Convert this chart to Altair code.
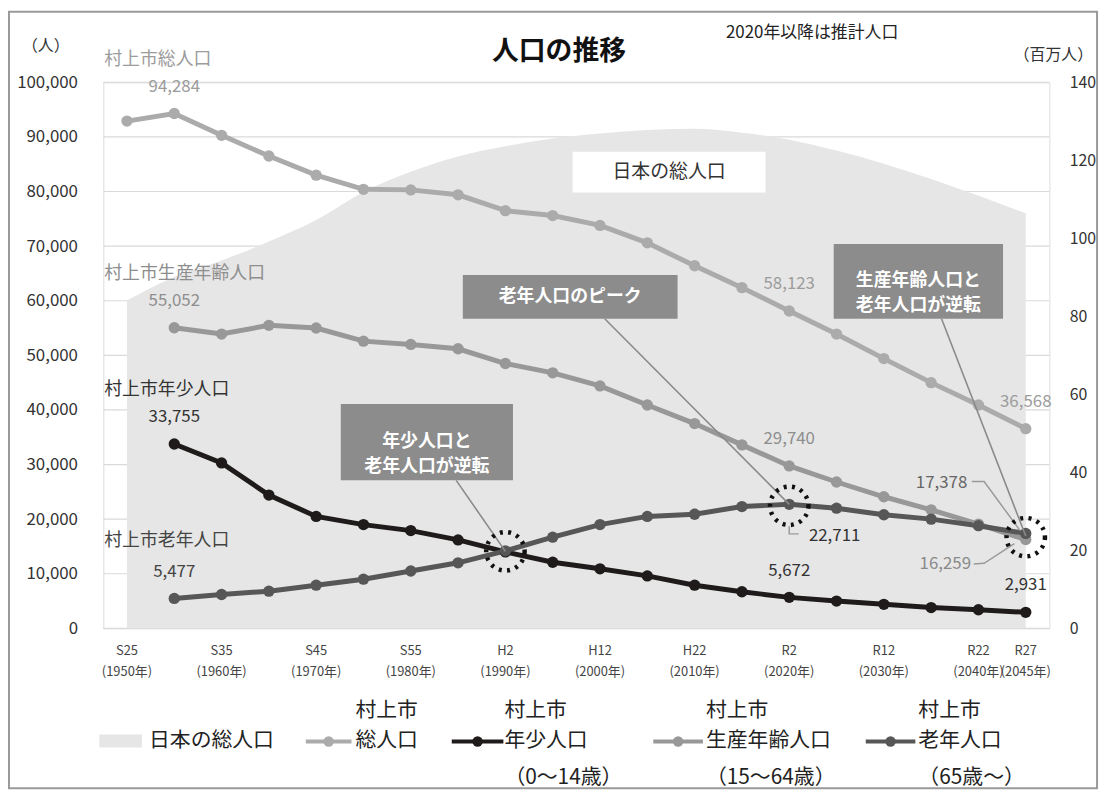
import altair as alt
import pandas as pd

FONT = "Noto Sans CJK JP"

# ---------------- data ----------------
years = [1950, 1955, 1960, 1965, 1970, 1975, 1980, 1985, 1990, 1995,
         2000, 2005, 2010, 2015, 2020, 2025, 2030, 2035, 2040, 2045]

total = [92900, 94284, 90300, 86500, 83000, 80400, 80300, 79400, 76500, 75600,
         73800, 70600, 66400, 62400, 58123, 53900, 49400, 45000, 40900, 36568]
youth = [None, 33755, 30300, 24400, 20500, 19000, 17900, 16200, 14000, 12100,
         10900, 9600, 7900, 6700, 5672, 5000, 4400, 3800, 3400, 2931]
working = [None, 55052, 53900, 55500, 55000, 52600, 52000, 51200, 48500, 46800,
           44400, 40900, 37500, 33600, 29740, 26800, 24100, 21700, 19100, 16259]
elderly = [None, 5477, 6200, 6800, 7900, 9000, 10500, 12000, 14200, 16700,
           19000, 20500, 20900, 22300, 22711, 22000, 20800, 20000, 18800, 17378]
japan_total = [84.1, 90.1, 94.3, 99.2, 104.7, 111.9, 117.1, 121.0, 123.6, 125.6,
               126.9, 127.8, 128.1, 127.1, 125.3, 122.5, 119.1, 115.2, 110.9, 106.4]

series_names = ["総人口", "年少人口", "生産年齢人口", "老年人口"]
series_colors = ["#ababab", "#1f1b1b", "#989898", "#575757"]
series_ages = ["", "（0〜14歳）", "（15〜64歳）", "（65歳〜）"]
series_label_colors = ["#9c9c9c", "#333333", "#8e8e8e", "#444444"]
series_titles = ["村上市総人口", "村上市年少人口", "村上市生産年齢人口", "村上市老年人口"]
series_title_year = [1947.6, 1947.6, 1947.6, 1947.6]
series_title_val = [104000, 43600, 64900, 16000]
city_name = "村上市"

x_tick_years = [1950, 1960, 1970, 1980, 1990, 2000, 2010, 2020, 2030, 2040, 2045]
x_tick_era = ["S25", "S35", "S45", "S55", "H2", "H12", "H22", "R2", "R12", "R22", "R27"]
left_ticks = [0, 10000, 20000, 30000, 40000, 50000, 60000, 70000, 80000, 90000, 100000]
right_ticks = [0, 20, 40, 60, 80, 100, 120, 140]

# value labels drawn above points (series, year)
value_label_points = [("総人口", 1955), ("総人口", 2020), ("総人口", 2045),
                      ("生産年齢人口", 1955), ("生産年齢人口", 2020),
                      ("年少人口", 1955), ("年少人口", 2020), ("年少人口", 2045),
                      ("老年人口", 1955)]

# labels with leader lines
leader_label_year = [2024.8, 2036.1, 2036.5]
leader_label_val = [16950, 26700, 11800]
leader_label_text = ["22,711", "17,378", "16,259"]
leader_label_color = ["#333333", "#666666", "#8a8a8a"]
leader_id = ["a", "a", "a", "b", "b", "b", "c", "c", "c"]
leader_ord = [0, 1, 2, 0, 1, 2, 0, 1, 2]
leader_year = [2020, 2020, 2021.0, 2039.3, 2040.6, 2044.4, 2039.5, 2040.6, 2043.8]
leader_val = [18700, 17300, 17300, 26900, 26900, 17900, 11800, 11900, 15500]

# highlight circles
circle_year = [1990, 2020, 2045]
circle_val = [14100, 22450, 16700]

# callout boxes
box_text = [["年少人口と", "老年人口が逆転"], ["老年人口のピーク"], ["生産年齢人口と", "老年人口が逆転"]]
box_x1 = [1972.6, 1985.5, 2024.7]
box_x2 = [1990.8, 2008.2, 2042.6]
box_y1 = [27100, 56700, 56700]
box_y2 = [41100, 64700, 70400]
box_ptr_from_x = [1984.8, 2000.5, 2036.1]
box_ptr_to_x = [1990, 2020, 2045]
box_ptr_to_y = [14100, 22711, 16900]

japan_label = "日本の総人口"
japan_box = (1997.1, 2017.5, 79800, 87300)

title_text = "人口の推移"
note_text = "2020年以降は推計人口"
left_unit = "（人）"
right_unit = "（百万人）"

# ---------------- layout (pixels, relative to plot origin) ----------------
PLOT_W, PLOT_H = 953, 550
X_DOMAIN = [1947.5, 2047.5]
leg_line_x1 = [204, 351, 554, 768]
leg_line_x2 = [250, 403, 604, 818]
leg_text_x = [254, 404, 607, 821]
leg_row_y, leg_top_y, leg_bot_y = 664, 633, 701
xlab_y1, xlab_y2 = 573, 594


def px_to_year(p):
    return X_DOMAIN[0] + p * (X_DOMAIN[1] - X_DOMAIN[0]) / PLOT_W


# ---------------- tables ----------------
rows = []
for name, vals in zip(series_names, [total, youth, working, elderly]):
    for yr, v in zip(years, vals):
        if v is not None:
            rows.append({"year": yr, "v": v, "series": name})
df = pd.DataFrame(rows)

lookup = {(r["series"], r["year"]): r["v"] for r in rows}
vl_rows = []
for s, yr in value_label_points:
    v = lookup[(s, yr)]
    vl_rows.append({"year": yr, "v": v, "t": f"{v:,}",
                    "c": series_label_colors[series_names.index(s)]})
vl_df = pd.DataFrame(vl_rows)

st_df = pd.DataFrame({"year": series_title_year, "v": series_title_val,
                      "t": series_titles, "c": series_label_colors})
ll_df = pd.DataFrame({"year": leader_label_year, "v": leader_label_val,
                      "t": leader_label_text, "c": leader_label_color})
ld_df = pd.DataFrame({"id": leader_id, "o": leader_ord, "year": leader_year, "v": leader_val})
circ_df = pd.DataFrame({"year": circle_year, "v": circle_val})
box_df = pd.DataFrame({"x1": box_x1, "x2": box_x2, "y1": box_y1, "y2": box_y2,
                       "xc": [(a + b) / 2 for a, b in zip(box_x1, box_x2)],
                       "yc": [(a + b) / 2 for a, b in zip(box_y1, box_y2)],
                       "t": box_text, "px": box_ptr_from_x, "tx": box_ptr_to_x,
                       "ty": box_ptr_to_y})
jp_df = pd.DataFrame({"year": years, "jp": japan_total})
jb_df = pd.DataFrame({"x1": [japan_box[0]], "x2": [japan_box[1]], "y1": [japan_box[2]],
                      "y2": [japan_box[3]], "xc": [(japan_box[0] + japan_box[1]) / 2],
                      "yc": [(japan_box[2] + japan_box[3]) / 2], "t": [japan_label]})
leg_df = pd.DataFrame({"series": series_names, "age": series_ages,
                       "top": [city_name] * len(series_names),
                       "x1": [px_to_year(p) for p in leg_line_x1],
                       "x2": [px_to_year(p) for p in leg_line_x2],
                       "xd": [px_to_year((a + b) / 2) for a, b in zip(leg_line_x1, leg_line_x2)],
                       "tx": [px_to_year(p) for p in leg_text_x]})
grid_df = pd.DataFrame({"v": left_ticks})
xt_df = pd.DataFrame({"year": x_tick_years, "era": x_tick_era,
                      "yl": [f"({y}年)" for y in x_tick_years]})

# ---------------- scales ----------------
XS = alt.Scale(domain=X_DOMAIN, nice=False, zero=False)
YS = alt.Scale(domain=[0, 100000], nice=False)
CS = alt.Scale(domain=series_names, range=series_colors)

X_NOAXIS = alt.X("year:Q", scale=XS, axis=None)
Y_NOAXIS = alt.Y("v:Q", scale=YS, axis=None)
COLOR = alt.Color("series:N", scale=CS, legend=None)


def xfield(f):
    return alt.X(f"{f}:Q", scale=XS, axis=None)


# ---------------- layers ----------------
grid = alt.Chart(grid_df).mark_rule(color="#dadada", strokeWidth=1.2).encode(
    y=Y_NOAXIS, x=alt.value(0), x2=alt.value(PLOT_W),
)

area = alt.Chart(jp_df).mark_area(interpolate="monotone", color="#e6e6e6").encode(
    x=X_NOAXIS,
    y=alt.Y("jp:Q", scale=alt.Scale(domain=[0, 140], nice=False), title=None,
            axis=alt.Axis(orient="right", values=right_ticks, labelFontSize=16,
                          labelColor="#333333", labelFont=FONT, labelPadding=20,
                          ticks=False, domain=False, grid=False)),
)

lines = alt.Chart(df).mark_line(strokeWidth=5).encode(
    x=X_NOAXIS,
    y=alt.Y("v:Q", scale=YS, title=None,
            axis=alt.Axis(orient="left", values=left_ticks,
                          labelExpr="format(datum.value, ',')", labelFontSize=17,
                          labelColor="#333333", labelFont=FONT, labelPadding=26,
                          ticks=False, domain=False, grid=False)),
    color=COLOR,
)

points = alt.Chart(df).mark_circle(size=130, opacity=1).encode(
    x=X_NOAXIS, y=Y_NOAXIS, color=COLOR,
)

# x-axis tick labels (era name + western year), placed by the x scale
xt_era = alt.Chart(xt_df).mark_text(font=FONT, fontSize=13, color="#444444").encode(
    x=X_NOAXIS, y=alt.value(xlab_y1), text="era:N",
)
xt_year = alt.Chart(xt_df).mark_text(font=FONT, fontSize=13, color="#444444").encode(
    x=X_NOAXIS, y=alt.value(xlab_y2), text="yl:N",
)

value_labels = alt.Chart(vl_df).mark_text(font=FONT, fontSize=17, dy=-27).encode(
    x=X_NOAXIS, y=Y_NOAXIS, text="t:N", color=alt.Color("c:N", scale=None),
)

series_labels = alt.Chart(st_df).mark_text(font=FONT, fontSize=18, align="left").encode(
    x=X_NOAXIS, y=Y_NOAXIS, text="t:N", color=alt.Color("c:N", scale=None),
)

leader_lines = alt.Chart(ld_df).mark_line(strokeWidth=1.5, color="#9a9a9a").encode(
    x=X_NOAXIS, y=Y_NOAXIS, detail="id:N", order="o:Q",
)

leader_labels = alt.Chart(ll_df).mark_text(font=FONT, fontSize=17).encode(
    x=X_NOAXIS, y=Y_NOAXIS, text="t:N", color=alt.Color("c:N", scale=None),
)

circles = alt.Chart(circ_df).mark_point(shape="circle", size=1500, filled=False,
                                        stroke="#111111", strokeWidth=4.5,
                                        strokeDash=[3, 5.5], opacity=1).encode(
    x=X_NOAXIS, y=Y_NOAXIS,
)

box_ptrs = alt.Chart(box_df).mark_rule(strokeWidth=1.6, color="#8a8a8a").encode(
    x=xfield("px"), x2="tx:Q",
    y=alt.Y("y1:Q", scale=YS, axis=None), y2="ty:Q",
)

boxes = alt.Chart(box_df).mark_rect(color="#8c8c8c").encode(
    x=xfield("x1"), x2="x2:Q",
    y=alt.Y("y1:Q", scale=YS, axis=None), y2="y2:Q",
)

box_texts = alt.Chart(box_df).mark_text(font=FONT, fontSize=18, fontWeight="bold",
                                        color="white", lineHeight=25).encode(
    x=xfield("xc"), y=alt.Y("yc:Q", scale=YS, axis=None), text="t",
)

jbox = alt.Chart(jb_df).mark_rect(color="white").encode(
    x=xfield("x1"), x2="x2:Q",
    y=alt.Y("y1:Q", scale=YS, axis=None), y2="y2:Q",
)
jtext = alt.Chart(jb_df).mark_text(font=FONT, fontSize=19, color="#333333").encode(
    x=xfield("xc"), y=alt.Y("yc:Q", scale=YS, axis=None), text="t:N",
)

# ---- legend (custom, drawn from the series list) ----
leg_lines = alt.Chart(leg_df).mark_rule(strokeWidth=4).encode(
    x=xfield("x1"), x2="x2:Q", y=alt.value(leg_row_y), color=COLOR,
)
leg_dots = alt.Chart(leg_df).mark_circle(size=110, opacity=1).encode(
    x=xfield("xd"), y=alt.value(leg_row_y), color=COLOR,
)
leg_names = alt.Chart(leg_df).mark_text(font=FONT, fontSize=21, align="left",
                                        color="#222222").encode(
    x=xfield("tx"), y=alt.value(leg_row_y), text="series:N",
)
leg_tops = alt.Chart(leg_df).mark_text(font=FONT, fontSize=21, align="left",
                                       color="#222222").encode(
    x=xfield("tx"), y=alt.value(leg_top_y), text="top:N",
)
leg_ages = alt.Chart(leg_df).mark_text(font=FONT, fontSize=21, align="left",
                                       color="#222222").encode(
    x=xfield("tx"), y=alt.value(leg_bot_y), text="age:N",
)
leg_jp_df = pd.DataFrame({"t": [japan_label]})
leg_jp_box = alt.Chart(leg_jp_df).mark_rect(color="#e6e6e6").encode(
    x=alt.value(-4), x2=alt.value(39), y=alt.value(leg_row_y - 7), y2=alt.value(leg_row_y + 6),
)
leg_jp_text = alt.Chart(leg_jp_df).mark_text(font=FONT, fontSize=21, align="left",
                                             color="#222222").encode(
    x=alt.value(46), y=alt.value(leg_row_y), text="t:N",
)

# ---- titles / frame ----
title_mark = alt.Chart(pd.DataFrame({"t": [title_text]})).mark_text(
    font=FONT, fontSize=27, fontWeight="bold", color="#111111").encode(
    x=alt.value(459), y=alt.value(-30), text="t:N")
note_mark = alt.Chart(pd.DataFrame({"t": [note_text]})).mark_text(
    font=FONT, fontSize=17, color="#222222").encode(
    x=alt.value(714), y=alt.value(-50), text="t:N")
lunit = alt.Chart(pd.DataFrame({"t": [left_unit]})).mark_text(
    font=FONT, fontSize=16, color="#333333").encode(
    x=alt.value(-58), y=alt.value(-37), text="t:N")
runit = alt.Chart(pd.DataFrame({"t": [right_unit]})).mark_text(
    font=FONT, fontSize=16, color="#333333").encode(
    x=alt.value(957), y=alt.value(-27), text="t:N")
border = alt.Chart(pd.DataFrame({"t": [0]})).mark_rect(
    fill="transparent", stroke="#9a9a9a", strokeWidth=2).encode(
    x=alt.value(-95), x2=alt.value(1001), y=alt.value(-71), y2=alt.value(711))

chart = alt.layer(
    grid, area, lines, points, xt_era, xt_year, jbox, jtext, leader_lines, box_ptrs,
    boxes, box_texts, value_labels, leader_labels, series_labels, circles,
    leg_lines, leg_dots, leg_names, leg_tops, leg_ages, leg_jp_box, leg_jp_text,
    title_mark, note_mark, lunit, runit, border,
).resolve_scale(y="independent").properties(
    width=PLOT_W, height=PLOT_H,
    autosize=alt.AutoSizeParams(type="none"),
    padding={"left": 96, "top": 72, "right": 55, "bottom": 163},
).configure_view(stroke=None).configure(background="white")

chart.save("out.html", embed_options={"renderer": "svg", "actions": False})
